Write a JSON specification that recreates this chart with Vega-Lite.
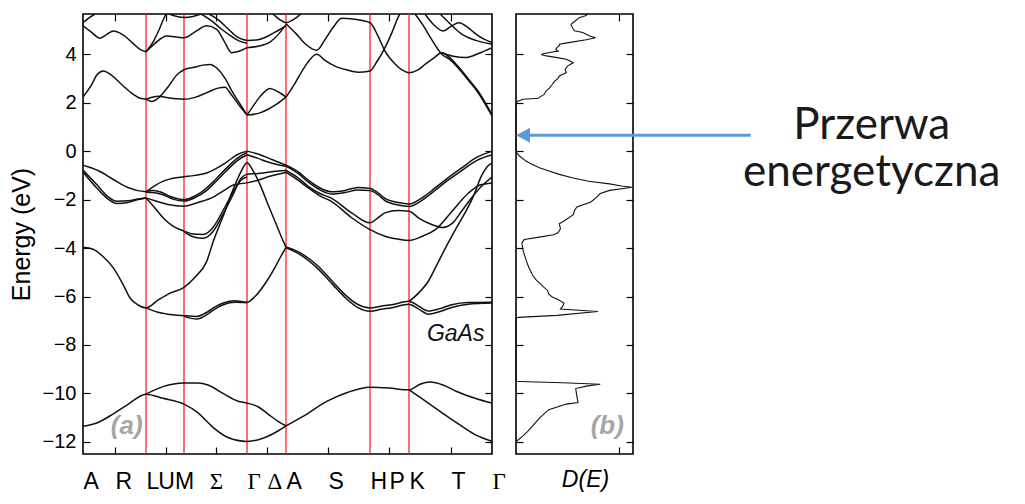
{
"$schema": "https://vega.github.io/schema/vega-lite/v6.json",
"padding": {"left": 8, "top": 11, "right": 5, "bottom": 5},
"bounds": "flush",
"spacing": 24,
"config": {
  "view": {"stroke": "#000", "strokeWidth": 1.6},
  "font": "Liberation Sans",
  "axis": {"grid": false, "domain": false, "tickColor": "#000", "tickWidth": 1.2, "labelColor": "#000", "titleColor": "#000", "labelFont": "Liberation Sans", "titleFont": "Liberation Sans", "titleFontWeight": "normal"}
},
"datasets": {
"red": [{"k":63},{"k":101},{"k":164},{"k":203},{"k":287},{"k":326}],
"bands": [
{"b":"b1","k":0,"E":-11.36},{"b":"b1","k":15,"E":-11.2},{"b":"b1","k":30,"E":-10.85},{"b":"b1","k":45,"E":-10.45},{"b":"b1","k":63,"E":-10.03},{"b":"b1","k":80,"E":-10.2},{"b":"b1","k":101,"E":-10.44},{"b":"b1","k":115,"E":-10.8},{"b":"b1","k":130,"E":-11.4},{"b":"b1","k":145,"E":-11.82},{"b":"b1","k":164,"E":-11.98},{"b":"b1","k":180,"E":-11.85},{"b":"b1","k":195,"E":-11.55},{"b":"b1","k":203,"E":-11.34},
{"b":"b2","k":63,"E":-10.03},{"b":"b2","k":80,"E":-9.72},{"b":"b2","k":101,"E":-9.57},{"b":"b2","k":115,"E":-9.57},{"b":"b2","k":125,"E":-9.65},{"b":"b2","k":140,"E":-10.0},{"b":"b2","k":155,"E":-10.32},{"b":"b2","k":164,"E":-10.4},{"b":"b2","k":175,"E":-10.55},{"b":"b2","k":185,"E":-10.85},{"b":"b2","k":195,"E":-11.15},{"b":"b2","k":203,"E":-11.34},
{"b":"b3","k":203,"E":-11.34},{"b":"b3","k":220,"E":-10.95},{"b":"b3","k":243.7,"E":-10.33},{"b":"b3","k":265,"E":-9.95},{"b":"b3","k":287,"E":-9.75},{"b":"b3","k":306,"E":-9.78},{"b":"b3","k":326,"E":-9.85},{"b":"b3","k":337,"E":-9.62},{"b":"b3","k":347,"E":-9.53},{"b":"b3","k":360,"E":-9.65},{"b":"b3","k":373.7,"E":-9.92},{"b":"b3","k":392,"E":-10.2},{"b":"b3","k":409,"E":-10.4},
{"b":"b4","k":326,"E":-9.85},{"b":"b4","k":340,"E":-10.25},{"b":"b4","k":357,"E":-10.74},{"b":"b4","k":375,"E":-11.25},{"b":"b4","k":392,"E":-11.7},{"b":"b4","k":409,"E":-11.98},
{"b":"p1","k":0,"E":-3.97},{"b":"p1","k":10,"E":-4.05},{"b":"p1","k":20,"E":-4.35},{"b":"p1","k":30.3,"E":-4.82},{"b":"p1","k":40,"E":-5.5},{"b":"p1","k":47,"E":-6.06},{"b":"p1","k":55,"E":-6.35},{"b":"p1","k":63,"E":-6.47},{"b":"p1","k":75,"E":-6.15},{"b":"p1","k":86,"E":-5.88},{"b":"p1","k":101,"E":-5.62},{"b":"p1","k":112,"E":-5.2},{"b":"p1","k":123.7,"E":-4.55},{"b":"p1","k":130.3,"E":-3.72},{"b":"p1","k":140,"E":-2.7},{"b":"p1","k":150,"E":-1.6},{"b":"p1","k":158,"E":-0.85},{"b":"p1","k":164,"E":-0.48},{"b":"p1","k":170,"E":-0.8},{"b":"p1","k":177,"E":-1.38},{"b":"p1","k":185,"E":-2.2},{"b":"p1","k":193,"E":-3.0},{"b":"p1","k":200.3,"E":-3.72},{"b":"p1","k":203,"E":-3.97},
{"b":"p2","k":63,"E":-6.47},{"b":"p2","k":75,"E":-6.65},{"b":"p2","k":83.7,"E":-6.72},{"b":"p2","k":101,"E":-6.79},{"b":"p2","k":113.7,"E":-6.82},{"b":"p2","k":125,"E":-6.62},{"b":"p2","k":130.3,"E":-6.47},{"b":"p2","k":140.3,"E":-6.27},{"b":"p2","k":152,"E":-6.18},{"b":"p2","k":164,"E":-6.24},{"b":"p2","k":172,"E":-6.0},{"b":"p2","k":183.7,"E":-5.37},{"b":"p2","k":192,"E":-4.8},{"b":"p2","k":197,"E":-4.41},{"b":"p2","k":203,"E":-3.97},
{"b":"p2b","k":101,"E":-6.82},{"b":"p2b","k":113.7,"E":-6.93},{"b":"p2b","k":125,"E":-6.72},{"b":"p2b","k":130.3,"E":-6.56},{"b":"p2b","k":140.3,"E":-6.34},{"b":"p2b","k":152,"E":-6.24},{"b":"p2b","k":164,"E":-6.26},
{"b":"p3","k":203,"E":-3.95},{"b":"p3","k":215,"E":-4.15},{"b":"p3","k":235.3,"E":-4.75},{"b":"p3","k":250,"E":-5.4},{"b":"p3","k":262,"E":-5.92},{"b":"p3","k":275,"E":-6.33},{"b":"p3","k":287,"E":-6.47},{"b":"p3","k":298,"E":-6.4},{"b":"p3","k":308.7,"E":-6.34},{"b":"p3","k":326,"E":-6.2},{"b":"p3","k":335,"E":-6.38},{"b":"p3","k":345.3,"E":-6.6},{"b":"p3","k":357,"E":-6.5},{"b":"p3","k":368.7,"E":-6.34},{"b":"p3","k":385,"E":-6.25},{"b":"p3","k":409,"E":-6.24},
{"b":"p3b","k":203,"E":-3.99},{"b":"p3b","k":215,"E":-4.22},{"b":"p3b","k":235.3,"E":-4.87},{"b":"p3b","k":250,"E":-5.52},{"b":"p3b","k":262,"E":-6.04},{"b":"p3b","k":275,"E":-6.46},{"b":"p3b","k":287,"E":-6.61},{"b":"p3b","k":298,"E":-6.53},{"b":"p3b","k":308.7,"E":-6.46},{"b":"p3b","k":326,"E":-6.32},{"b":"p3b","k":335,"E":-6.5},{"b":"p3b","k":345.3,"E":-6.73},{"b":"p3b","k":357,"E":-6.62},{"b":"p3b","k":368.7,"E":-6.45},{"b":"p3b","k":385,"E":-6.32},{"b":"p3b","k":409,"E":-6.27},
{"b":"p4","k":326,"E":-6.2},{"b":"p4","k":335,"E":-5.88},{"b":"p4","k":345.3,"E":-5.37},{"b":"p4","k":355,"E":-4.6},{"b":"p4","k":365,"E":-3.8},{"b":"p4","k":373,"E":-3.2},{"b":"p4","k":382,"E":-2.55},{"b":"p4","k":390,"E":-1.9},{"b":"p4","k":398.7,"E":-1.0},{"b":"p4","k":404,"E":-0.65},{"b":"p4","k":409,"E":-0.5},
{"b":"v1","k":0,"E":-0.58},{"b":"v1","k":15,"E":-0.8},{"b":"v1","k":30.3,"E":-1.17},{"b":"v1","k":45,"E":-1.5},{"b":"v1","k":55,"E":-1.63},{"b":"v1","k":63,"E":-1.68},
{"b":"v2","k":0,"E":-0.78},{"b":"v2","k":13.7,"E":-1.38},{"b":"v2","k":25,"E":-1.88},{"b":"v2","k":33.7,"E":-2.07},{"b":"v2","k":45,"E":-2.05},{"b":"v2","k":55,"E":-1.98},{"b":"v2","k":63,"E":-1.93},
{"b":"v3","k":0,"E":-0.86},{"b":"v3","k":13.7,"E":-1.52},{"b":"v3","k":25,"E":-1.98},{"b":"v3","k":33.7,"E":-2.16},{"b":"v3","k":45,"E":-2.12},{"b":"v3","k":55,"E":-2.0},{"b":"v3","k":63,"E":-1.93},
{"b":"v4","k":63,"E":-1.68},{"b":"v4","k":72,"E":-1.42},{"b":"v4","k":80.3,"E":-1.24},{"b":"v4","k":90,"E":-1.12},{"b":"v4","k":101,"E":-1.06},{"b":"v4","k":112,"E":-1.0},{"b":"v4","k":123.7,"E":-0.9},{"b":"v4","k":133,"E":-0.72},{"b":"v4","k":143.7,"E":-0.45},{"b":"v4","k":154,"E":-0.15},{"b":"v4","k":164,"E":0},
{"b":"v5","k":63,"E":-1.68},{"b":"v5","k":70,"E":-1.62},{"b":"v5","k":77,"E":-1.68},{"b":"v5","k":88,"E":-1.88},{"b":"v5","k":101,"E":-2.0},{"b":"v5","k":112,"E":-1.85},{"b":"v5","k":123.7,"E":-1.52},{"b":"v5","k":133,"E":-1.15},{"b":"v5","k":143.7,"E":-0.69},{"b":"v5","k":154,"E":-0.3},{"b":"v5","k":164,"E":-0.05},
{"b":"v5b","k":63,"E":-1.7},{"b":"v5b","k":72,"E":-1.72},{"b":"v5b","k":80,"E":-1.8},{"b":"v5b","k":90,"E":-1.98},{"b":"v5b","k":101,"E":-2.06},{"b":"v5b","k":112,"E":-1.92},{"b":"v5b","k":123.7,"E":-1.62},{"b":"v5b","k":133,"E":-1.25},{"b":"v5b","k":143.7,"E":-0.8},{"b":"v5b","k":154,"E":-0.4},{"b":"v5b","k":164,"E":-0.15},
{"b":"v6","k":63,"E":-1.93},{"b":"v6","k":72,"E":-2.05},{"b":"v6","k":85,"E":-2.2},{"b":"v6","k":101,"E":-2.27},{"b":"v6","k":115,"E":-2.12},{"b":"v6","k":130.3,"E":-1.9},{"b":"v6","k":140,"E":-1.65},{"b":"v6","k":150.3,"E":-1.4},{"b":"v6","k":164,"E":-1.31},
{"b":"v7","k":63,"E":-1.93},{"b":"v7","k":70,"E":-2.25},{"b":"v7","k":80.3,"E":-2.76},{"b":"v7","k":90,"E":-3.1},{"b":"v7","k":101,"E":-3.3},{"b":"v7","k":110,"E":-3.42},{"b":"v7","k":120.3,"E":-3.44},{"b":"v7","k":130,"E":-3.15},{"b":"v7","k":140,"E":-2.45},{"b":"v7","k":150,"E":-1.7},{"b":"v7","k":158,"E":-1.2},{"b":"v7","k":164,"E":-1.07},
{"b":"v7b","k":101,"E":-3.33},{"b":"v7b","k":110,"E":-3.53},{"b":"v7b","k":120.3,"E":-3.6},{"b":"v7b","k":130,"E":-3.32},{"b":"v7b","k":140,"E":-2.6},{"b":"v7b","k":150,"E":-1.8},{"b":"v7b","k":158,"E":-1.12},{"b":"v7b","k":164,"E":-0.95},
{"b":"v8","k":164,"E":0},{"b":"v8","k":175,"E":-0.12},{"b":"v8","k":185,"E":-0.28},{"b":"v8","k":195,"E":-0.45},{"b":"v8","k":203,"E":-0.58},
{"b":"v9","k":164,"E":-0.15},{"b":"v9","k":175,"E":-0.3},{"b":"v9","k":185,"E":-0.45},{"b":"v9","k":195,"E":-0.56},{"b":"v9","k":203,"E":-0.62},
{"b":"v10","k":164,"E":-0.95},{"b":"v10","k":175,"E":-0.92},{"b":"v10","k":185,"E":-0.87},{"b":"v10","k":195,"E":-0.82},{"b":"v10","k":203,"E":-0.8},
{"b":"v11","k":164,"E":-1.31},{"b":"v11","k":175,"E":-1.2},{"b":"v11","k":185,"E":-1.06},{"b":"v11","k":195,"E":-0.95},{"b":"v11","k":203,"E":-0.88},
{"b":"w1","k":203,"E":-0.58},{"b":"w1","k":215,"E":-0.85},{"b":"w1","k":225.3,"E":-1.2},{"b":"w1","k":237,"E":-1.52},{"b":"w1","k":248.7,"E":-1.68},{"b":"w1","k":262,"E":-1.62},{"b":"w1","k":275,"E":-1.5},{"b":"w1","k":287,"E":-1.54},{"b":"w1","k":295,"E":-1.72},{"b":"w1","k":302,"E":-1.95},{"b":"w1","k":315,"E":-2.12},{"b":"w1","k":326,"E":-2.18},{"b":"w1","k":340,"E":-1.9},{"b":"w1","k":352,"E":-1.52},{"b":"w1","k":365,"E":-1.1},{"b":"w1","k":378.7,"E":-0.69},{"b":"w1","k":394,"E":-0.25},{"b":"w1","k":409,"E":0},
{"b":"w1b","k":203,"E":-0.62},{"b":"w1b","k":215,"E":-0.92},{"b":"w1b","k":225.3,"E":-1.28},{"b":"w1b","k":237,"E":-1.6},{"b":"w1b","k":248.7,"E":-1.77},{"b":"w1b","k":262,"E":-1.71},{"b":"w1b","k":275,"E":-1.6},{"b":"w1b","k":287,"E":-1.63},{"b":"w1b","k":295,"E":-1.8},{"b":"w1b","k":302,"E":-2.04},{"b":"w1b","k":315,"E":-2.22},{"b":"w1b","k":326,"E":-2.28},{"b":"w1b","k":340,"E":-2.0},{"b":"w1b","k":352,"E":-1.62},{"b":"w1b","k":365,"E":-1.2},{"b":"w1b","k":378.7,"E":-0.8},{"b":"w1b","k":394,"E":-0.38},{"b":"w1b","k":409,"E":-0.15},
{"b":"w2","k":203,"E":-0.8},{"b":"w2","k":215,"E":-1.1},{"b":"w2","k":225.3,"E":-1.45},{"b":"w2","k":237,"E":-1.75},{"b":"w2","k":248.7,"E":-1.95},{"b":"w2","k":268.7,"E":-2.55},{"b":"w2","k":287,"E":-2.96},{"b":"w2","k":295,"E":-2.75},{"b":"w2","k":302,"E":-2.55},{"b":"w2","k":315,"E":-2.45},{"b":"w2","k":326,"E":-2.48},{"b":"w2","k":337,"E":-2.8},{"b":"w2","k":348.7,"E":-3.03},{"b":"w2","k":360,"E":-3.15},{"b":"w2","k":370,"E":-2.95},{"b":"w2","k":380,"E":-2.4},{"b":"w2","k":395,"E":-1.6},{"b":"w2","k":409,"E":-1.07},
{"b":"w3","k":203,"E":-0.88},{"b":"w3","k":215,"E":-1.2},{"b":"w3","k":225.3,"E":-1.52},{"b":"w3","k":237,"E":-1.85},{"b":"w3","k":248.7,"E":-2.08},{"b":"w3","k":268.7,"E":-2.75},{"b":"w3","k":287,"E":-3.24},{"b":"w3","k":302,"E":-3.51},{"b":"w3","k":315,"E":-3.63},{"b":"w3","k":326,"E":-3.69},{"b":"w3","k":340,"E":-3.5},{"b":"w3","k":352,"E":-3.25},{"b":"w3","k":368.7,"E":-2.5},{"b":"w3","k":385,"E":-1.75},{"b":"w3","k":397,"E":-1.4},{"b":"w3","k":409,"E":-1.31},
{"b":"c1a","k":0,"E":2.23},{"b":"c1a","k":8,"E":2.7},{"b":"c1a","k":14,"E":3.15},{"b":"c1a","k":20.3,"E":3.31},{"b":"c1a","k":28,"E":3.15},{"b":"c1a","k":40,"E":2.7},{"b":"c1a","k":50,"E":2.35},{"b":"c1a","k":57,"E":2.18},{"b":"c1a","k":63,"E":2.14},{"b":"c1a","k":68.7,"E":2.05},{"b":"c1a","k":75,"E":2.18},{"b":"c1a","k":85,"E":2.65},{"b":"c1a","k":94,"E":3.15},{"b":"c1a","k":101,"E":3.36},{"b":"c1a","k":110,"E":3.45},{"b":"c1a","k":120,"E":3.55},{"b":"c1a","k":127,"E":3.58},{"b":"c1a","k":134,"E":3.42},{"b":"c1a","k":142,"E":3.0},{"b":"c1a","k":150,"E":2.4},{"b":"c1a","k":157,"E":1.95},{"b":"c1a","k":164,"E":1.49},
{"b":"c1b","k":63,"E":2.14},{"b":"c1b","k":69,"E":2.22},{"b":"c1b","k":75,"E":2.27},{"b":"c1b","k":85,"E":2.2},{"b":"c1b","k":101,"E":2.14},{"b":"c1b","k":112,"E":2.22},{"b":"c1b","k":123.7,"E":2.41},{"b":"c1b","k":135,"E":2.6},{"b":"c1b","k":142,"E":2.64},{"b":"c1b","k":148,"E":2.35},{"b":"c1b","k":156,"E":1.9},{"b":"c1b","k":164,"E":1.49},
{"b":"c2a","k":164,"E":1.49},{"b":"c2a","k":170,"E":1.85},{"b":"c2a","k":177,"E":2.25},{"b":"c2a","k":187,"E":2.59},{"b":"c2a","k":195,"E":2.45},{"b":"c2a","k":203,"E":2.23},
{"b":"c2b","k":164,"E":1.49},{"b":"c2b","k":177,"E":1.58},{"b":"c2b","k":186,"E":1.75},{"b":"c2b","k":194,"E":1.95},{"b":"c2b","k":203,"E":2.23},
{"b":"c3","k":203,"E":2.23},{"b":"c3","k":212,"E":2.8},{"b":"c3","k":222,"E":3.5},{"b":"c3","k":233.7,"E":4.0},{"b":"c3","k":242,"E":3.75},{"b":"c3","k":252,"E":3.51},{"b":"c3","k":264,"E":3.35},{"b":"c3","k":275,"E":3.26},{"b":"c3","k":287,"E":3.31},{"b":"c3","k":294,"E":3.7},{"b":"c3","k":302,"E":4.27},{"b":"c3","k":309,"E":4.9},{"b":"c3","k":315,"E":5.51},{"b":"c3","k":317,"E":5.66},
{"b":"c4","k":203,"E":5.26},{"b":"c4","k":213,"E":4.85},{"b":"c4","k":223,"E":4.4},{"b":"c4","k":233.7,"E":4.16},{"b":"c4","k":242,"E":4.6},{"b":"c4","k":250,"E":5.1},{"b":"c4","k":258.7,"E":5.48},{"b":"c4","k":270,"E":5.45},{"b":"c4","k":287,"E":5.3},{"b":"c4","k":295,"E":4.75},{"b":"c4","k":302,"E":4.13},{"b":"c4","k":312,"E":3.6},{"b":"c4","k":319,"E":3.35},{"b":"c4","k":326,"E":3.24},{"b":"c4","k":335,"E":3.35},{"b":"c4","k":342,"E":3.58},{"b":"c4","k":351,"E":3.85},{"b":"c4","k":358.7,"E":4.06},{"b":"c4","k":367,"E":3.85},{"b":"c4","k":375,"E":3.5},{"b":"c4","k":385,"E":3.0},{"b":"c4","k":395,"E":2.48},{"b":"c4","k":409,"E":1.5},
{"b":"c5","k":332,"E":5.66},{"b":"c5","k":340,"E":5.2},{"b":"c5","k":348,"E":4.65},{"b":"c5","k":358.7,"E":4.0},{"b":"c5","k":367,"E":3.78},{"b":"c5","k":375,"E":3.44},{"b":"c5","k":385,"E":2.94},{"b":"c5","k":395,"E":2.42},{"b":"c5","k":409,"E":1.45},
{"b":"c6","k":358.7,"E":4.06},{"b":"c6","k":370,"E":3.92},{"b":"c6","k":382,"E":3.86},{"b":"c6","k":395,"E":4.02},{"b":"c6","k":409,"E":4.27},
{"b":"c7","k":342,"E":5.66},{"b":"c7","k":350,"E":5.25},{"b":"c7","k":360.3,"E":4.96},{"b":"c7","k":368,"E":5.15},{"b":"c7","k":376,"E":5.3},{"b":"c7","k":385,"E":5.1},{"b":"c7","k":393,"E":4.83},{"b":"c7","k":401,"E":4.62},{"b":"c7","k":409,"E":4.48},
{"b":"c8","k":357,"E":5.66},{"b":"c8","k":366,"E":5.3},{"b":"c8","k":378,"E":4.85},{"b":"c8","k":392,"E":4.58},{"b":"c8","k":409,"E":4.41},
{"b":"u1","k":0,"E":5.3},{"b":"u1","k":6,"E":5.5},{"b":"u1","k":12,"E":5.66},
{"b":"u2","k":0,"E":5.17},{"b":"u2","k":8,"E":4.92},{"b":"u2","k":17,"E":4.66},{"b":"u2","k":24,"E":4.82},{"b":"u2","k":30.3,"E":4.96},{"b":"u2","k":40,"E":4.8},{"b":"u2","k":50,"E":4.45},{"b":"u2","k":57,"E":4.2},{"b":"u2","k":63,"E":4.1},
{"b":"u3","k":63,"E":4.1},{"b":"u3","k":70,"E":4.5},{"b":"u3","k":76,"E":5.0},{"b":"u3","k":80,"E":5.4},{"b":"u3","k":83,"E":5.66},
{"b":"u4","k":63,"E":4.1},{"b":"u4","k":72,"E":4.45},{"b":"u4","k":83.7,"E":4.75},{"b":"u4","k":92,"E":4.72},{"b":"u4","k":101,"E":4.68},{"b":"u4","k":112,"E":4.92},{"b":"u4","k":123.7,"E":5.17},{"b":"u4","k":133.7,"E":5.03},{"b":"u4","k":141,"E":4.55},{"b":"u4","k":148.7,"E":4.06},{"b":"u4","k":156,"E":4.12},{"b":"u4","k":164,"E":4.27},
{"b":"u5","k":118,"E":5.66},{"b":"u5","k":128,"E":5.4},{"b":"u5","k":138,"E":5.05},{"b":"u5","k":148,"E":4.75},{"b":"u5","k":156,"E":4.55},{"b":"u5","k":164,"E":4.45},
{"b":"u6","k":126,"E":5.66},{"b":"u6","k":136,"E":5.4},{"b":"u6","k":145,"E":5.05},{"b":"u6","k":154,"E":4.72},{"b":"u6","k":164,"E":4.57},
{"b":"u7","k":86,"E":5.66},{"b":"u7","k":95,"E":5.55},{"b":"u7","k":101,"E":5.52},{"b":"u7","k":110,"E":5.56},{"b":"u7","k":118,"E":5.66},
{"b":"u8","k":164,"E":4.57},{"b":"u8","k":175,"E":4.6},{"b":"u8","k":185,"E":4.75},{"b":"u8","k":195,"E":4.98},{"b":"u8","k":203,"E":5.17},
{"b":"u9","k":164,"E":4.27},{"b":"u9","k":175,"E":4.33},{"b":"u9","k":187,"E":4.5},{"b":"u9","k":196,"E":4.85},{"b":"u9","k":203,"E":5.22},
{"b":"u10","k":190,"E":5.66},{"b":"u10","k":197,"E":5.42},{"b":"u10","k":203,"E":5.3},{"b":"u10","k":210,"E":5.42},{"b":"u10","k":218,"E":5.66}
],
"dos": [
{"E":-11.98,"d":0},{"E":-11.91,"d":0.02},{"E":-11.75,"d":0.06},{"E":-11.57,"d":0.1},{"E":-11.3,"d":0.15},{"E":-11.02,"d":0.2},{"E":-10.67,"d":0.28},{"E":-10.44,"d":0.43},{"E":-10.38,"d":0.53},{"E":-10.1,"d":0.52},{"E":-9.8,"d":0.51},{"E":-9.7,"d":0.6},{"E":-9.62,"d":0.72},{"E":-9.56,"d":0.4},{"E":-9.52,"d":0.1},{"E":-9.5,"d":0},
{"E":-6.9,"d":0},{"E":-6.86,"d":0.02},{"E":-6.78,"d":0.35},{"E":-6.62,"d":0.7},{"E":-6.52,"d":0.38},{"E":-6.4,"d":0.4},{"E":-6.28,"d":0.41},{"E":-6.15,"d":0.37},{"E":-6.02,"d":0.31},{"E":-5.9,"d":0.28},{"E":-5.75,"d":0.27},{"E":-5.58,"d":0.23},{"E":-5.3,"d":0.17},{"E":-5.1,"d":0.14},{"E":-4.8,"d":0.11},{"E":-4.55,"d":0.09},{"E":-4.1,"d":0.06},{"E":-3.79,"d":0.05},{"E":-3.65,"d":0.07},{"E":-3.55,"d":0.2},{"E":-3.45,"d":0.32},{"E":-3.37,"d":0.36},{"E":-3.2,"d":0.38},{"E":-3.0,"d":0.37},{"E":-2.85,"d":0.42},{"E":-2.62,"d":0.49},{"E":-2.45,"d":0.5},{"E":-2.3,"d":0.52},{"E":-2.1,"d":0.64},{"E":-1.9,"d":0.69},{"E":-1.75,"d":0.72},{"E":-1.62,"d":0.8},{"E":-1.52,"d":0.95},{"E":-1.49,"d":0.99},{"E":-1.44,"d":0.9},{"E":-1.35,"d":0.8},{"E":-1.24,"d":0.62},{"E":-1.1,"d":0.48},{"E":-0.96,"d":0.37},{"E":-0.8,"d":0.27},{"E":-0.69,"d":0.2},{"E":-0.5,"d":0.12},{"E":-0.41,"d":0.085},{"E":-0.2,"d":0.03},{"E":-0.05,"d":0.005},{"E":0,"d":0},
{"E":1.93,"d":0},{"E":2.05,"d":0.01},{"E":2.14,"d":0.06},{"E":2.18,"d":0.19},{"E":2.25,"d":0.21},{"E":2.34,"d":0.24},{"E":2.5,"d":0.26},{"E":2.62,"d":0.29},{"E":2.75,"d":0.31},{"E":2.89,"d":0.33},{"E":3.0,"d":0.36},{"E":3.1,"d":0.37},{"E":3.24,"d":0.43},{"E":3.37,"d":0.42},{"E":3.51,"d":0.44},{"E":3.6,"d":0.47},{"E":3.65,"d":0.49},{"E":3.72,"d":0.46},{"E":3.79,"d":0.43},{"E":3.86,"d":0.35},{"E":3.93,"d":0.26},{"E":3.98,"d":0.22},{"E":4.02,"d":0.23},{"E":4.08,"d":0.3},{"E":4.13,"d":0.36},{"E":4.2,"d":0.34},{"E":4.27,"d":0.35},{"E":4.35,"d":0.37},{"E":4.41,"d":0.37},{"E":4.48,"d":0.45},{"E":4.6,"d":0.6},{"E":4.68,"d":0.68},{"E":4.75,"d":0.63},{"E":4.9,"d":0.57},{"E":4.97,"d":0.5},{"E":5.03,"d":0.49},{"E":5.12,"d":0.48},{"E":5.23,"d":0.47},{"E":5.35,"d":0.5},{"E":5.51,"d":0.54},{"E":5.6,"d":0.6},{"E":5.66,"d":0.61}
]
},
"hconcat": [
{
 "width": 409, "height": 440,
 "resolve": {"axis": {"x": "independent", "y": "independent"}},
 "layer": [
  {"data": {"name": "red"}, "mark": {"type": "rule", "color": "#ff2020", "strokeWidth": 1.3},
   "encoding": {"x": {"field": "k", "type": "quantitative", "scale": {"domain": [0, 409], "nice": false, "zero": false},
     "axis": {"orient": "top", "values": [32, 83, 133, 184, 245, 306, 368], "labels": false, "tickSize": -7, "title": null}}}},
  {"data": {"name": "bands"}, "mark": {"type": "line", "interpolate": "monotone", "color": "#111", "strokeWidth": 1.5, "clip": true},
   "encoding": {
    "x": {"field": "k", "type": "quantitative", "scale": {"domain": [0, 409], "nice": false, "zero": false},
     "axis": {"orient": "bottom", "values": [0, 32, 63, 83, 101, 133, 164, 184, 203, 245, 287, 306, 326, 368, 409],
      "labelExpr": "['A','R','L','U','M','Σ','Γ','Δ','A','S','H','P','K','T','Γ'][indexof([0,32,63,83,101,133,164,184,203,245,287,306,326,368,409], datum.value)]",
      "tickSize": -7,
      "tickOpacity": {"condition": {"test": "indexof([0,63,101,164,203,287,326,409], datum.value) >= 0", "value": 0}, "value": 1},
      "labelAlign": {"condition": {"test": "indexof([83,101,133], datum.value) >= 0", "value": "center"}, "value": "left"},
      "labelFont": {"condition": {"test": "indexof([133,164,184,409], datum.value) >= 0", "value": "Liberation Serif"}, "value": "Liberation Sans"},
      "labelFontSize": 23, "labelPadding": 23, "labelFlush": false, "labelOverlap": false, "labelBound": false, "title": null}},
    "y": {"field": "E", "type": "quantitative", "scale": {"domain": [-12.5, 5.66], "nice": false, "zero": false},
     "axis": {"orient": "left", "values": [-12, -10, -8, -6, -4, -2, 0, 2, 4], "tickSize": -7, "labelFontSize": 20, "labelPadding": 14, "title": "Energy (eV)", "titleFontSize": 25, "titlePadding": 8}},
    "detail": {"field": "b", "type": "nominal"}}},
  {"data": {"values": [{"k": 372.7, "E": -7.55, "t": "GaAs"}]}, "mark": {"type": "text", "fontSize": 23, "fontStyle": "italic", "color": "#111"},
   "encoding": {
    "x": {"field": "k", "type": "quantitative", "scale": {"domain": [0, 409], "nice": false, "zero": false}, "axis": null},
    "y": {"field": "E", "type": "quantitative", "scale": {"domain": [-12.5, 5.66], "nice": false, "zero": false},
     "axis": {"orient": "right", "values": [-12, -10, -8, -6, -4, -2, 0, 2, 4], "labels": false, "tickSize": -7, "title": null}},
    "text": {"field": "t"}}},
  {"data": {"values": [{"k": 43.7, "E": -11.36, "t": "(a)"}]}, "mark": {"type": "text", "fontSize": 26, "fontStyle": "italic", "fontWeight": "bold", "color": "#a6a6a6"},
   "encoding": {
    "x": {"field": "k", "type": "quantitative", "scale": {"domain": [0, 409], "nice": false, "zero": false}, "axis": null},
    "y": {"field": "E", "type": "quantitative", "scale": {"domain": [-12.5, 5.66], "nice": false, "zero": false}, "axis": null},
    "text": {"field": "t"}}}
 ]
},
{
 "width": 117, "height": 440,
 "resolve": {"axis": {"x": "independent", "y": "independent"}},
 "layer": [
  {"data": {"name": "dos"}, "mark": {"type": "line", "color": "#111", "strokeWidth": 1.1},
   "encoding": {
    "x": {"field": "d", "type": "quantitative", "scale": {"domain": [0, 1], "nice": false, "zero": false},
     "axis": {"orient": "bottom", "values": [0.88], "labels": false, "tickSize": -7, "title": "D(E)", "titleFontStyle": "italic", "titleFontSize": 23, "titlePadding": 14, "titleX": 69}},
    "y": {"field": "E", "type": "quantitative", "scale": {"domain": [-12.5, 5.66], "nice": false, "zero": false},
     "axis": {"orient": "left", "values": [-12, -10, -8, -6, -4, -2, 0, 2, 4], "labels": false, "tickSize": -7, "title": null}},
    "order": {"field": "E", "type": "quantitative"}}},
  {"data": {"values": [{"d": 0.78, "E": -11.36, "t": "(b)"}]}, "mark": {"type": "text", "fontSize": 26, "fontStyle": "italic", "fontWeight": "bold", "color": "#a6a6a6"},
   "encoding": {
    "x": {"field": "d", "type": "quantitative", "scale": {"domain": [0, 1], "nice": false, "zero": false},
     "axis": {"orient": "top", "values": [0.88], "labels": false, "tickSize": -7, "title": null}},
    "y": {"field": "E", "type": "quantitative", "scale": {"domain": [-12.5, 5.66], "nice": false, "zero": false},
     "axis": {"orient": "right", "values": [-12, -10, -8, -6, -4, -2, 0, 2, 4], "labels": false, "tickSize": -7, "title": null}},
    "text": {"field": "t"}}},
  {"data": {"values": [{"d1": 0.1, "d2": 2.006, "E": 0.66}]}, "mark": {"type": "rule", "color": "#5b9bd5", "strokeWidth": 3},
   "encoding": {
    "x": {"field": "d1", "type": "quantitative", "scale": {"domain": [0, 1], "nice": false, "zero": false}, "axis": null},
    "x2": {"field": "d2"},
    "y": {"field": "E", "type": "quantitative", "scale": {"domain": [-12.5, 5.66], "nice": false, "zero": false}, "axis": null}}},
  {"data": {"values": [{"d": 0.06, "E": 0.66}]}, "mark": {"type": "point", "shape": "M-1,0L1,-1.07L1,1.07Z", "filled": true, "color": "#5b9bd5", "size": 196, "opacity": 1},
   "encoding": {
    "x": {"field": "d", "type": "quantitative", "scale": {"domain": [0, 1], "nice": false, "zero": false}, "axis": null},
    "y": {"field": "E", "type": "quantitative", "scale": {"domain": [-12.5, 5.66], "nice": false, "zero": false}, "axis": null}}},
  {"data": {"values": [{"d": 3.04, "E": 0.5, "t": "Przerwa\nenergetyczna"}]}, "mark": {"type": "text", "font": "Lato", "fontSize": 44, "baseline": "alphabetic", "align": "center", "lineBreak": "\n", "lineHeight": 47, "color": "#1a1a1a"},
   "encoding": {
    "x": {"field": "d", "type": "quantitative", "scale": {"domain": [0, 1], "nice": false, "zero": false}, "axis": null},
    "y": {"field": "E", "type": "quantitative", "scale": {"domain": [-12.5, 5.66], "nice": false, "zero": false}, "axis": null},
    "text": {"field": "t"}}}
 ]
}
]
}
